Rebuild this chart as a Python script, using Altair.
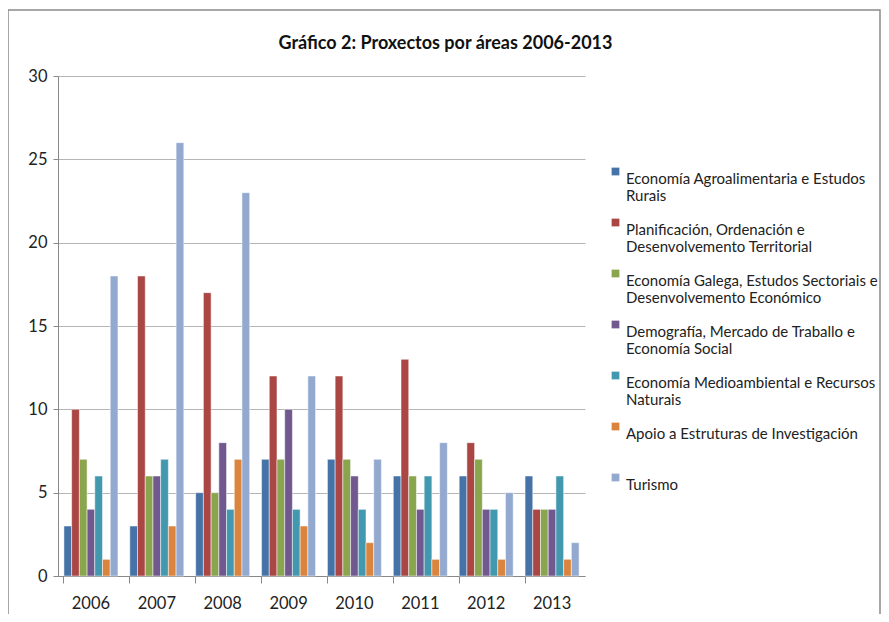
import altair as alt
import pandas as pd

years = ["2006", "2007", "2008", "2009", "2010", "2011", "2012", "2013"]
series = [
    "Economía Agroalimentaria e Estudos|Rurais",
    "Planificación, Ordenación e|Desenvolvemento Territorial",
    "Economía Galega, Estudos Sectoriais e|Desenvolvemento Económico",
    "Demografía, Mercado de Traballo e|Economía Social",
    "Economía Medioambiental e Recursos|Naturais",
    "Apoio a Estruturas de Investigación| ",
    "Turismo",
]
colors = ["#4572A7", "#AA4643", "#89A54E", "#71588F", "#4198AF", "#DB843D", "#93A9CF"]

agro = [3, 3, 5, 7, 7, 6, 6, 6]
planif = [10, 18, 17, 12, 12, 13, 8, 4]
galega = [7, 6, 5, 7, 7, 6, 7, 4]
demog = [4, 6, 8, 10, 6, 4, 4, 4]
medio = [6, 7, 4, 4, 4, 6, 4, 6]
apoio = [1, 3, 7, 3, 2, 1, 1, 1]
turismo = [18, 26, 23, 12, 7, 8, 5, 2]
values = [agro, planif, galega, demog, medio, apoio, turismo]

rows = []
for s, vals in zip(series, values):
    for y, v in zip(years, vals):
        rows.append({"year": y, "serie": s, "value": v})
df = pd.DataFrame(rows)

font = "Lato"

bars = alt.Chart(df).mark_bar(stroke="white", strokeWidth=0.5).encode(
    x=alt.X("year:N", title=None, sort=years,
            scale=alt.Scale(paddingInner=0.18, paddingOuter=0.09),
            axis=alt.Axis(labelAngle=0, labelFontSize=16.5, labelColor="#222222",
                          labelFont=font, labelPadding=12, tickSize=7,
                          bandPosition=0, tickColor="#888888", domainColor="#888888",
                          grid=False)),
    xOffset=alt.XOffset("serie:N", sort=series),
    y=alt.Y("value:Q", title=None,
            scale=alt.Scale(domain=[0, 30]),
            axis=alt.Axis(values=[0, 5, 10, 15, 20, 25, 30], labelFontSize=16.5,
                          labelColor="#222222", labelFont=font, labelPadding=6,
                          tickSize=5, tickColor="#888888", domainColor="#888888",
                          gridColor="#b5b5b5", gridWidth=1)),
    color=alt.Color("serie:N", sort=series,
                    scale=alt.Scale(domain=series, range=colors),
                    legend=alt.Legend(title=None, orient="none", legendX=550, legendY=88,
                                      symbolType="square", symbolSize=60,
                                      symbolStrokeWidth=0,
                                      labelFont=font, labelFontSize=15,
                                      labelColor="#222222", labelLimit=320,
                                      labelExpr="split(datum.label, '|')",
                                      labelBaseline="top", labelOffset=3,
                                      rowPadding=11)),
)

frame = alt.Chart(pd.DataFrame({"a": [0]})).mark_rect(
    fill=None, stroke="#8a8a8a", strokeWidth=1.5
).encode(
    x=alt.value(-50), x2=alt.value(822), y=alt.value(-66), y2=alt.value(600)
)

chart = alt.layer(frame, bars).properties(
    width=527, height=500,
    autosize=alt.AutoSizeParams(type="none"),
    padding={"left": 50, "top": 68, "right": 296, "bottom": 38},
    title=alt.TitleParams("Gráfico 2: Proxectos por áreas 2006-2013", font=font,
                          fontSize=18, fontWeight="bold", color="#111111",
                          anchor="middle", frame="group", dx=124, offset=-44),
).configure_view(stroke=None)

chart.save("out.html", embed_options={"renderer": "svg", "actions": False})
